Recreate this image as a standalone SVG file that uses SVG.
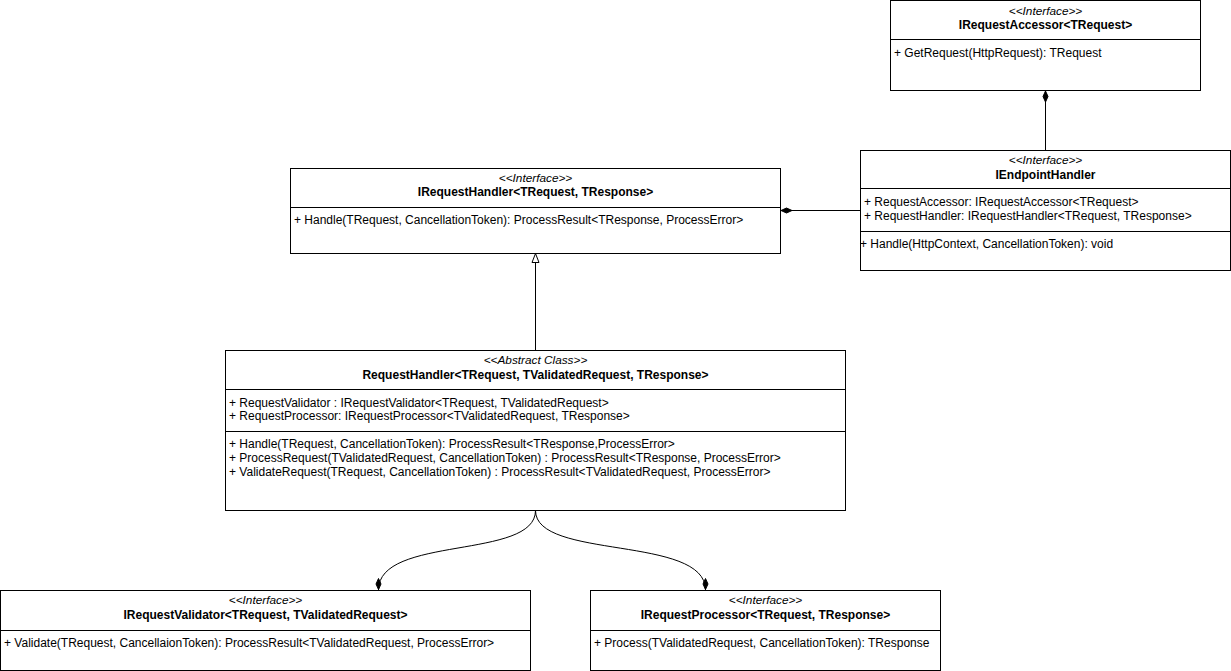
<svg xmlns="http://www.w3.org/2000/svg" width="1231" height="671" viewBox="0 0 1231 671">
<defs>
<style>
.box{fill:#fff;stroke:#000;stroke-width:1}
.sep{stroke:#000;stroke-width:1}
.st{font-family:"Liberation Sans",Arial,sans-serif;font-size:11.8px;font-style:italic;text-anchor:middle;fill:#000}
.ti{font-family:"Liberation Sans",Arial,sans-serif;font-size:12px;font-weight:bold;text-anchor:middle;fill:#000}
.m{font-family:"Liberation Sans",Arial,sans-serif;font-size:12px;fill:#000}
.ln{fill:none;stroke:#000;stroke-width:1}
</style>
<marker id="dia" viewBox="0 0 12 8" refX="12" refY="4" markerWidth="12" markerHeight="8" orient="auto-start-reverse" markerUnits="userSpaceOnUse">
<path d="M0.5 4 L6 1.5 L11.5 4 L6 6.5 Z" fill="#000" stroke="#000" stroke-width="1"/>
</marker>
<marker id="tri" viewBox="0 0 10 10" refX="10" refY="5" markerWidth="10" markerHeight="10" orient="auto" markerUnits="userSpaceOnUse">
<path d="M1 1.5 L10 5 L1 8.5 Z" fill="#fff" stroke="#000" stroke-width="1"/>
</marker>
</defs>

<g id="connectors">
<path class="ln" d="M1045.5 90.5 L1045.5 150" marker-start="url(#dia)"/>
<path class="ln" d="M780.5 210.5 L860 210.5" marker-start="url(#dia)"/>
<path class="ln" d="M535.5 350 L535.5 253.5" marker-end="url(#tri)"/>
<path class="ln" d="M535.5 510.5 C535.5 560 378.5 535 378.5 590" marker-end="url(#dia)"/>
<path class="ln" d="M535.5 510.5 C535.5 560 705.5 535 705.5 590" marker-end="url(#dia)"/>
</g>

<g id="IRequestAccessor">
<rect class="box" x="890.5" y="0.5" width="310" height="90"/>
<line class="sep" x1="890.5" y1="39.5" x2="1200.5" y2="39.5"/>
<text class="st" x="1045.5" y="15">&lt;&lt;Interface&gt;&gt;</text>
<text class="ti" x="1045.5" y="29">IRequestAccessor&lt;TRequest&gt;</text>
<text class="m" x="894" y="57">+ GetRequest(HttpRequest): TRequest</text>
</g>

<g id="IEndpointHandler">
<rect class="box" x="860.5" y="150.5" width="370" height="120"/>
<line class="sep" x1="860.5" y1="188.5" x2="1230.5" y2="188.5"/>
<line class="sep" x1="860.5" y1="231.5" x2="1230.5" y2="231.5"/>
<text class="st" x="1045.5" y="164">&lt;&lt;Interface&gt;&gt;</text>
<text class="ti" x="1045.5" y="179">IEndpointHandler</text>
<text class="m" x="864" y="206">+ RequestAccessor: IRequestAccessor&lt;TRequest&gt;</text>
<text class="m" x="864" y="220">+ RequestHandler: IRequestHandler&lt;TRequest, TResponse&gt;</text>
<text class="m" x="860" y="248">+ Handle(HttpContext, CancellationToken): void</text>
</g>

<g id="IRequestHandler">
<rect class="box" x="290.5" y="168.5" width="490" height="85"/>
<line class="sep" x1="290.5" y1="207.5" x2="780.5" y2="207.5"/>
<text class="st" x="535.5" y="182">&lt;&lt;Interface&gt;&gt;</text>
<text class="ti" x="535.5" y="196">IRequestHandler&lt;TRequest, TResponse&gt;</text>
<text class="m" x="294" y="224">+ Handle(TRequest, CancellationToken): ProcessResult&lt;TResponse, ProcessError&gt;</text>
</g>

<g id="RequestHandler">
<rect class="box" x="225.5" y="350.5" width="620" height="160"/>
<line class="sep" x1="225.5" y1="389.5" x2="845.5" y2="389.5"/>
<line class="sep" x1="225.5" y1="431.5" x2="845.5" y2="431.5"/>
<text class="st" x="535.5" y="364">&lt;&lt;Abstract Class&gt;&gt;</text>
<text class="ti" x="535.5" y="379">RequestHandler&lt;TRequest, TValidatedRequest, TResponse&gt;</text>
<text class="m" x="229" y="407">+ RequestValidator : IRequestValidator&lt;TRequest, TValidatedRequest&gt;</text>
<text class="m" x="229" y="420">+ RequestProcessor: IRequestProcessor&lt;TValidatedRequest, TResponse&gt;</text>
<text class="m" x="229" y="448">+ Handle(TRequest, CancellationToken): ProcessResult&lt;TResponse,ProcessError&gt;</text>
<text class="m" x="229" y="462">+ ProcessRequest(TValidatedRequest, CancellationToken) : ProcessResult&lt;TResponse, ProcessError&gt;</text>
<text class="m" x="229" y="476">+ ValidateRequest(TRequest, CancellationToken) : ProcessResult&lt;TValidatedRequest, ProcessError&gt;</text>
</g>

<g id="IRequestValidator">
<rect class="box" x="0.5" y="590.5" width="530" height="80"/>
<line class="sep" x1="0.5" y1="630.5" x2="530.5" y2="630.5"/>
<text class="st" x="265.5" y="604">&lt;&lt;Interface&gt;&gt;</text>
<text class="ti" x="265.5" y="619">IRequestValidator&lt;TRequest, TValidatedRequest&gt;</text>
<text class="m" x="4" y="647">+ Validate(TRequest, CancellaionToken): ProcessResult&lt;TValidatedRequest, ProcessError&gt;</text>
</g>

<g id="IRequestProcessor">
<rect class="box" x="590.5" y="590.5" width="350" height="80"/>
<line class="sep" x1="590.5" y1="630.5" x2="940.5" y2="630.5"/>
<text class="st" x="765.5" y="604">&lt;&lt;Interface&gt;&gt;</text>
<text class="ti" x="765.5" y="619">IRequestProcessor&lt;TRequest, TResponse&gt;</text>
<text class="m" x="594" y="647">+ Process(TValidatedRequest, CancellationToken): TResponse</text>
</g>
</svg>
